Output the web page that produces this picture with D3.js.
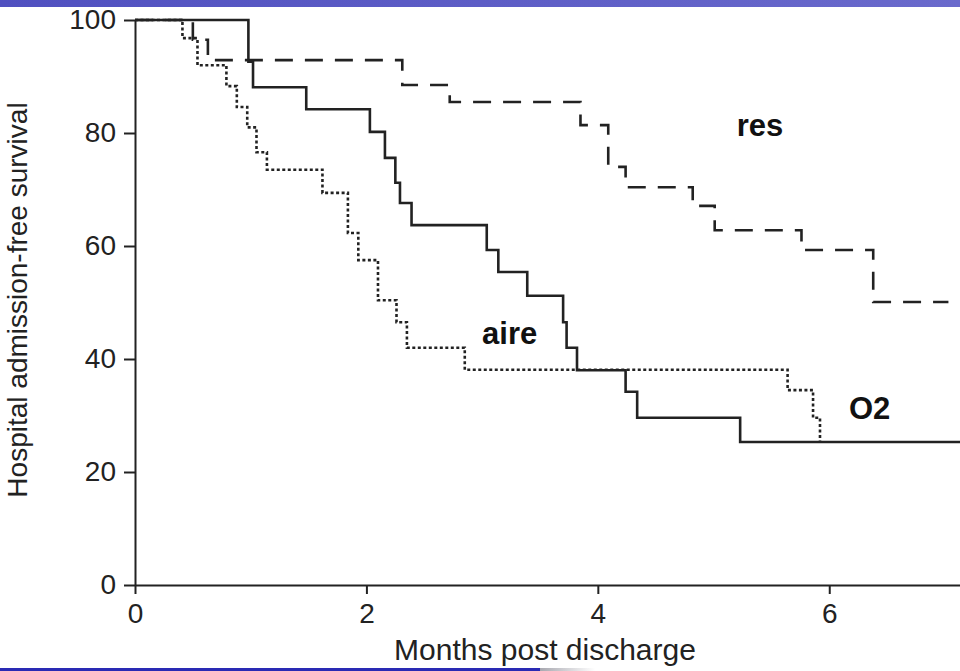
<!DOCTYPE html>
<html>
<head>
<meta charset="utf-8">
<script src="https://cdn.jsdelivr.net/npm/d3@7"></script>
<style>
  body { margin: 0; background: #fff; }
  svg { display: block; }
  text { font-family: "Liberation Sans", Arial, sans-serif; fill: #222; }
</style>
</head>
<body>
<div id="chart"></div>
<script>
// step points (months, % free of admission)
var o2Times   = [0, 0.98, 1.02, 1.48, 2.03, 2.16, 2.25, 2.29, 2.39, 3.04, 3.14, 3.39, 3.70, 3.73, 3.82, 4.24, 4.34, 5.23, 7.13];
var o2Values  = [100, 92.6, 88.1, 84.2, 80.2, 75.6, 71.2, 67.6, 63.7, 59.3, 55.4, 51.2, 46.5, 42, 38, 34.2, 29.6, 25.3, 25.3];

var resTimes  = [0, 0.50, 0.63, 2.31, 2.72, 3.85, 4.09, 4.24, 4.82, 5.01, 5.76, 6.38, 7.03];
var resValues = [100, 96.5, 92.9, 88.5, 85.5, 81.4, 74, 70.4, 67.1, 62.8, 59.3, 50.1, 50.1];

var aireTimes  = [0, 0.41, 0.54, 0.79, 0.88, 0.97, 1.05, 1.14, 1.62, 1.84, 1.93, 2.10, 2.26, 2.35, 2.85, 5.64, 5.86, 5.92];
var aireValues = [100, 96.8, 92, 88.3, 84.6, 81, 76.6, 73.5, 69.4, 62.3, 57.5, 50.4, 46.5, 42, 38.1, 34.5, 29.6, 25.3];

var xTicks = [0, 2, 4, 6];
var yTicks = [0, 20, 40, 60, 80, 100];

var width = 960, height = 671;
var x0 = 135, x1 = 960, yTop = 20, yBottom = 585;

var svg = d3.select('#chart').append('svg')
    .attr('width', width)
    .attr('height', height);

// slide bars top and bottom
var defs = svg.append('defs');
var g1 = defs.append('linearGradient').attr('id', 'topbar');
g1.append('stop').attr('offset', '0%').attr('stop-color', '#5050c0');
g1.append('stop').attr('offset', '100%').attr('stop-color', '#6a6acc');
var g2 = defs.append('linearGradient').attr('id', 'fade');
g2.append('stop').attr('offset', '0%').attr('stop-color', '#a8a8b0');
g2.append('stop').attr('offset', '100%').attr('stop-color', '#ffffff');

svg.append('rect').attr('x', 0).attr('y', 0).attr('width', width).attr('height', 7).attr('fill', 'url(#topbar)');
svg.append('rect').attr('x', 0).attr('y', 668).attr('width', 540).attr('height', 3).attr('fill', '#2a2ab4');
svg.append('rect').attr('x', 540).attr('y', 668).attr('width', 55).attr('height', 3).attr('fill', 'url(#fade)');

var x = d3.scaleLinear().domain([0, 7.13]).range([x0, x1]);
var y = d3.scaleLinear().domain([0, 100]).range([yBottom, yTop]);

var xAxis = svg.append('g')
    .attr('transform', 'translate(0,' + yBottom + ')')
    .call(d3.axisBottom(x).tickValues(xTicks).tickSize(9).tickSizeOuter(0).tickPadding(9));
var yAxis = svg.append('g')
    .attr('transform', 'translate(' + x0 + ',0)')
    .call(d3.axisLeft(y).tickValues(yTicks).tickSize(11).tickSizeOuter(0).tickPadding(8));

[xAxis, yAxis].forEach(function (a) {
    a.selectAll('path, line').attr('stroke', '#222').attr('stroke-width', 2);
    a.selectAll('text').attr('font-size', 28).style('fill', '#222')
        .attr('font-family', '"Liberation Sans", Arial, sans-serif');
});

svg.append('text')
    .attr('x', 545).attr('y', 660)
    .attr('text-anchor', 'middle')
    .attr('font-size', 30)
    .text('Months post discharge');

svg.append('text')
    .attr('transform', 'translate(27,300) rotate(-90)')
    .attr('text-anchor', 'middle')
    .attr('font-size', 28)
    .text('Hospital admission-free survival');

function zip(ts, vs) {
    return ts.map(function (t, i) { return [t, vs[i]]; });
}

var line = d3.line()
    .x(function (d) { return x(d[0]); })
    .y(function (d) { return y(d[1]); })
    .curve(d3.curveStepAfter);

var series = [
    { pts: zip(aireTimes, aireValues), dash: '3,2.5' },
    { pts: zip(resTimes, resValues), dash: '18,12' },
    { pts: zip(o2Times, o2Values), dash: null }
];

svg.selectAll('path.km').data(series).enter().append('path')
    .attr('class', 'km')
    .attr('d', function (d) { return line(d.pts); })
    .attr('fill', 'none')
    .attr('stroke', '#222')
    .attr('stroke-width', 2.6)
    .attr('stroke-dasharray', function (d) { return d.dash; });

var labels = [
    { text: 'res', t: 5.2, v: 79.5 },
    { text: 'aire', t: 3.0, v: 42.7 },
    { text: 'O2', t: 6.17, v: 29.3 }
];
svg.selectAll('text.lab').data(labels).enter().append('text')
    .attr('class', 'lab')
    .attr('x', function (d) { return x(d.t); })
    .attr('y', function (d) { return y(d.v); })
    .attr('font-size', 31)
    .attr('font-weight', 'bold')
    .style('fill', '#111')
    .text(function (d) { return d.text; });
</script>
</body>
</html>
